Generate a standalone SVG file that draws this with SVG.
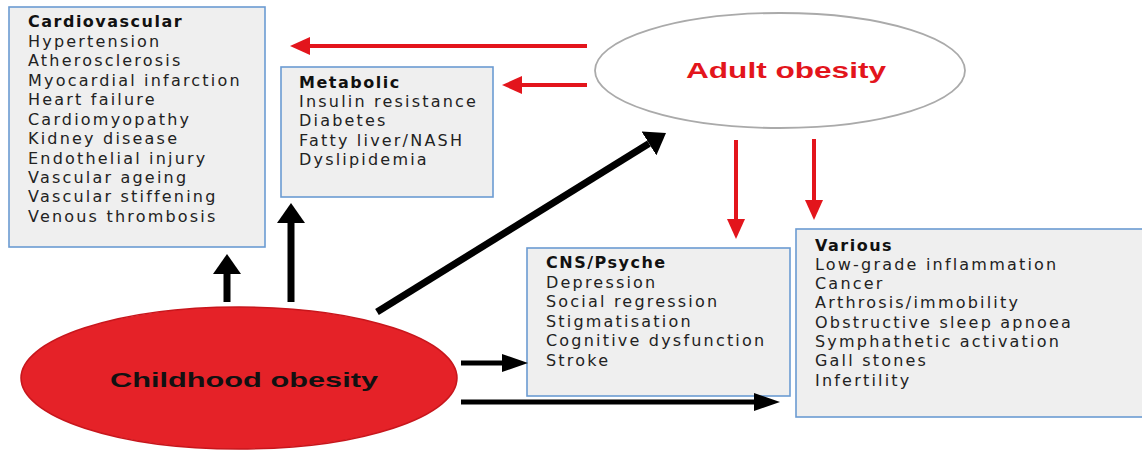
<svg xmlns="http://www.w3.org/2000/svg" width="1142" height="450" viewBox="0 0 1142 450">
  <style>
    .box { fill: #efefef; stroke: #6b9bd2; stroke-width: 1.6; }
    .t { font-family: "DejaVu Sans", "Liberation Sans", sans-serif; font-size: 16px; fill: #222; letter-spacing: 2.2px; }
    .h { font-weight: bold; fill: #111; letter-spacing: 1.5px; }
    .blk { stroke: #000; stroke-width: 7; fill: none; }
    .blkthin { stroke: #000; stroke-width: 5; fill: none; }
    .red { stroke: #e3151c; stroke-width: 4; fill: none; }
  </style>
  <defs>
    <marker id="ahBig" markerUnits="userSpaceOnUse" viewBox="0 0 20 28" refX="0" refY="14" markerWidth="20" markerHeight="28" orient="auto">
      <path d="M0,0 L20,14 L0,28 z" fill="#000"/>
    </marker>
    <marker id="ahSmall" markerUnits="userSpaceOnUse" viewBox="0 0 26 18" refX="0" refY="9" markerWidth="26" markerHeight="18" orient="auto">
      <path d="M0,0 L26,9 L0,18 z" fill="#000"/>
    </marker>
    <marker id="ahRed" markerUnits="userSpaceOnUse" viewBox="0 0 20 18" refX="0" refY="9" markerWidth="20" markerHeight="18" orient="auto">
      <path d="M0,0 L20,9 L0,18 z" fill="#e3151c"/>
    </marker>
  </defs>
  <rect width="1142" height="450" fill="#fff"/>

  <g id="cardiovascular">
    <rect class="box" x="9" y="7" width="256" height="240" stroke="#4f7fbf"/>
    <text class="t h" x="28" y="27">Cardiovascular</text>
    <text class="t" x="28" y="47">Hypertension</text>
    <text class="t" x="28" y="66">Atherosclerosis</text>
    <text class="t" x="28" y="86">Myocardial infarction</text>
    <text class="t" x="28" y="105">Heart failure</text>
    <text class="t" x="28" y="125">Cardiomyopathy</text>
    <text class="t" x="28" y="144">Kidney disease</text>
    <text class="t" x="28" y="164">Endothelial injury</text>
    <text class="t" x="28" y="183">Vascular ageing</text>
    <text class="t" x="28" y="202">Vascular stiffening</text>
    <text class="t" x="28" y="222">Venous thrombosis</text>
  </g>

  <g id="metabolic">
    <rect class="box" x="281" y="67" width="212" height="130"/>
    <text class="t h" x="299" y="88">Metabolic</text>
    <text class="t" x="299" y="107">Insulin resistance</text>
    <text class="t" x="299" y="126">Diabetes</text>
    <text class="t" x="299" y="146">Fatty liver/NASH</text>
    <text class="t" x="299" y="165">Dyslipidemia</text>
  </g>

  <g id="adult-obesity">
    <ellipse cx="780" cy="70.5" rx="185" ry="57.5" fill="#fff" stroke="#aaa" stroke-width="1.8"/>
    <text x="786" y="78" text-anchor="middle" font-family="Liberation Sans, Arial, sans-serif" font-weight="bold" font-size="22" fill="#e3151c" textLength="200" lengthAdjust="spacingAndGlyphs">Adult obesity</text>
  </g>

  <g id="cns-psyche">
    <rect class="box" x="527" y="248" width="263" height="148"/>
    <text class="t h" x="546" y="268">CNS/Psyche</text>
    <text class="t" x="546" y="288">Depression</text>
    <text class="t" x="546" y="307">Social regression</text>
    <text class="t" x="546" y="327">Stigmatisation</text>
    <text class="t" x="546" y="346">Cognitive dysfunction</text>
    <text class="t" x="546" y="366">Stroke</text>
  </g>

  <g id="various">
    <rect class="box" x="796" y="229" width="360" height="188"/>
    <text class="t h" x="815" y="251">Various</text>
    <text class="t" x="815" y="270">Low-grade inflammation</text>
    <text class="t" x="815" y="289">Cancer</text>
    <text class="t" x="815" y="308">Arthrosis/immobility</text>
    <text class="t" x="815" y="328">Obstructive sleep apnoea</text>
    <text class="t" x="815" y="347">Symphathetic activation</text>
    <text class="t" x="815" y="366">Gall stones</text>
    <text class="t" x="815" y="386">Infertility</text>
  </g>

  <g id="childhood-obesity">
    <ellipse cx="239" cy="378" rx="218" ry="71" fill="#e52228" stroke="#c8161c" stroke-width="1.5"/>
    <text x="244" y="387" text-anchor="middle" font-family="Liberation Sans, Arial, sans-serif" font-weight="bold" font-size="21" fill="#111" textLength="268" lengthAdjust="spacingAndGlyphs">Childhood obesity</text>
  </g>

  <g id="connectors">
    <line class="red" x1="587" y1="46" x2="310" y2="46" marker-end="url(#ahRed)"/>
    <line class="red" x1="587" y1="85" x2="522" y2="85" marker-end="url(#ahRed)"/>
    <line class="red" x1="736" y1="140" x2="736" y2="219" marker-end="url(#ahRed)"/>
    <line class="red" x1="814" y1="139" x2="814" y2="200" marker-end="url(#ahRed)"/>
    <line class="blk" x1="227" y1="302" x2="227" y2="274" marker-end="url(#ahBig)"/>
    <line class="blk" x1="291" y1="302" x2="291" y2="223" marker-end="url(#ahBig)"/>
    <line class="blk" x1="377" y1="312" x2="649" y2="143.5" marker-end="url(#ahBig)"/>
    <line class="blkthin" x1="461" y1="363" x2="502" y2="363" marker-end="url(#ahSmall)"/>
    <line class="blkthin" x1="461" y1="402" x2="754" y2="402" marker-end="url(#ahSmall)"/>
  </g>
</svg>
